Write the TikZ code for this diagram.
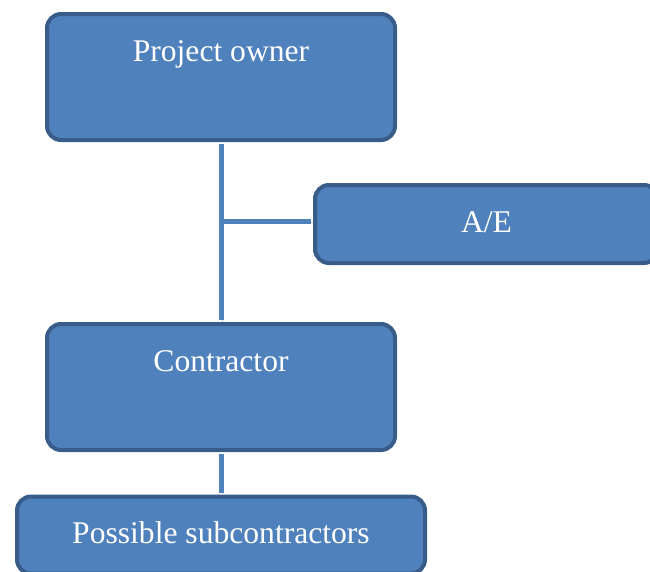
\documentclass[tikz,border=0pt]{standalone}
\usepackage{fontspec}
\setmainfont{Liberation Serif}
\usetikzlibrary{positioning}
\definecolor{boxfill}{HTML}{4F81BD}
\definecolor{boxline}{HTML}{385D8A}

\begin{document}
\begin{tikzpicture}[x=1pt,y=-1pt,
    orgbox/.style={draw=boxline, fill=boxfill, line width=4pt, rounded corners=14pt,
      text=white, font=\fontsize{31.6}{38}\selectfont, inner sep=0pt},
    tallbox/.style={orgbox, minimum width=348pt, minimum height=126pt, text height=47pt, text depth=79pt},
    flatbox/.style={orgbox, text height=22pt, text depth=6pt},
    link/.style={draw=boxfill, line width=5pt, shorten <=2pt, shorten >=2pt,
      preaction={draw=black!18, transform canvas={shift={(1.5pt,-1.5pt)}}}}]
          % page size of the reference
          \useasboundingbox (0,0) rectangle (650,571);
          % the four parties
          \node[tallbox] (owner) at (221,77) {Project owner};
          \node[flatbox, minimum width=343pt, minimum height=78pt] (ae) at (486.5,224) {A/E};
          \node[tallbox] (contractor) at (221,387) {Contractor};
          \node[flatbox, minimum width=408pt, minimum height=77pt] (subs) at (221,535) {Possible subcontractors};
          % lines of the hierarchy
          \draw[link] (owner.south) -- (contractor.north);
          \draw[link, shorten >=0pt] ([yshift=3pt]ae.west) -- ([yshift=3pt]ae.west -| owner.south);
          \draw[link] (contractor.south) -- (subs.north);
      \end{tikzpicture}
\end{document}
